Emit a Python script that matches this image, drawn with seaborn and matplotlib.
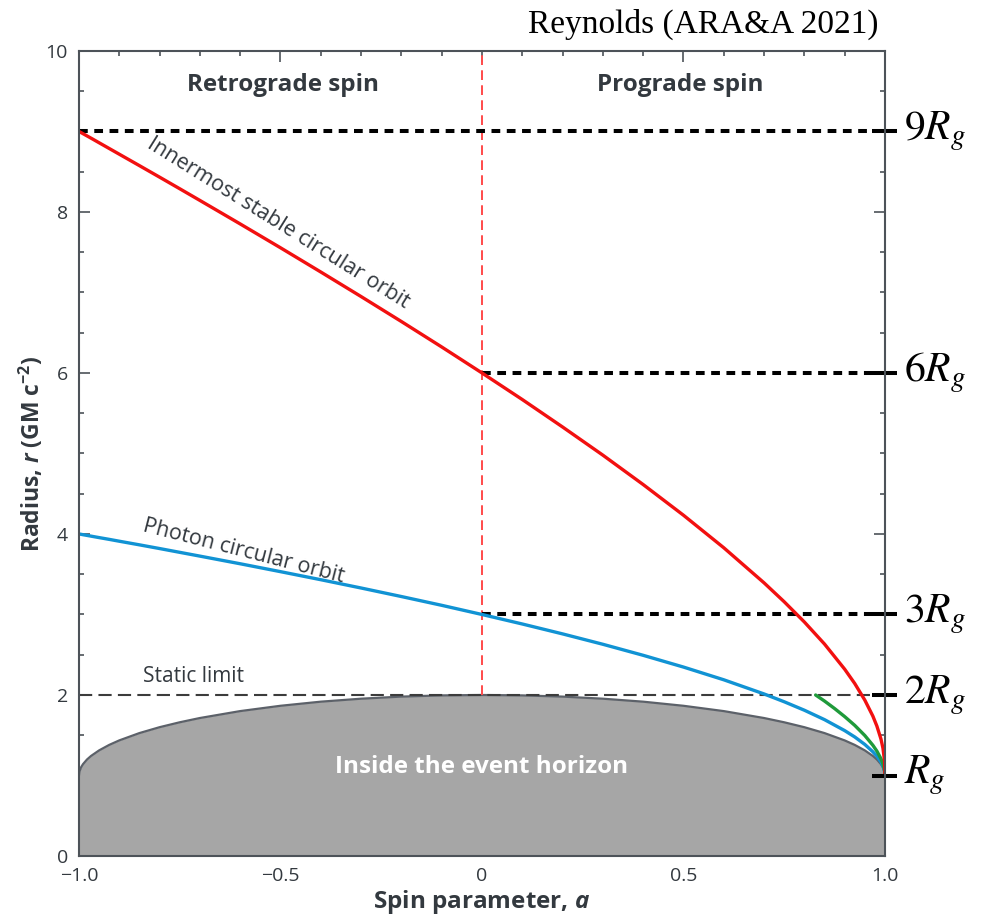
import matplotlib
matplotlib.use("Agg")
import matplotlib.pyplot as plt
import seaborn as sns
import numpy as np

# ---------------- data ----------------
spin = [-1.0, -0.999, -0.995, -0.99, -0.98, -0.97, -0.95, -0.925, -0.9, -0.85,
        -0.8, -0.75, -0.7, -0.6, -0.5, -0.4, -0.3, -0.2, -0.1, 0.0,
        0.1, 0.2, 0.3, 0.4, 0.5, 0.6, 0.7,
        0.75, 0.8, 0.85, 0.9, 0.925, 0.95, 0.97, 0.98, 0.99, 0.995, 0.999, 1.0]
r_isco = [9.0, 8.997, 8.986, 8.972, 8.944, 8.916, 8.859, 8.788, 8.717, 8.575,
          8.432, 8.288, 8.143, 7.851, 7.555, 7.254, 6.949, 6.639, 6.323, 6.0,
          5.670, 5.329, 4.979, 4.614, 4.233, 3.829, 3.393,
          3.158, 2.907, 2.633, 2.321, 2.143, 1.937, 1.738, 1.614, 1.455, 1.341, 1.182, 1.0]
r_photon = [4.0, 3.999, 3.996, 3.991, 3.982, 3.973, 3.955, 3.933, 3.910, 3.865,
            3.819, 3.772, 3.725, 3.630, 3.532, 3.432, 3.329, 3.223, 3.114, 3.0,
            2.882, 2.759, 2.630, 2.493, 2.347, 2.189, 2.013,
            1.916, 1.811, 1.694, 1.558, 1.479, 1.386, 1.295, 1.240, 1.168, 1.118, 1.052, 1.0]
r_horizon = [1.0, 1.045, 1.100, 1.141, 1.199, 1.243, 1.312, 1.380, 1.436, 1.527,
             1.600, 1.661, 1.714, 1.800, 1.866, 1.917, 1.954, 1.980, 1.995, 2.0,
             1.995, 1.980, 1.954, 1.917, 1.866, 1.800, 1.714,
             1.661, 1.600, 1.527, 1.436, 1.380, 1.312, 1.243, 1.199, 1.141, 1.100, 1.045, 1.0]
spin_green = [0.828, 0.85, 0.875, 0.9, 0.925, 0.95, 0.97, 0.98, 0.99, 0.995, 0.999, 1.0]
r_green = [2.0, 1.925, 1.832, 1.732, 1.623, 1.497, 1.376, 1.303, 1.210, 1.146, 1.064, 1.0]

static_limit = 2.0
ref_levels = [9, 6, 3, 2, 1]
ref_labels = [r"$9R_g$", r"$6R_g$", r"$3R_g$", r"$2R_g$", r"$R_g$"]
ref_start = [-1.0, 0.0, 0.0, None, None]   # where dashed line starts (None = tick only)

xticks = [-1.0, -0.5, 0.0, 0.5, 1.0]
xticklabels = ["\u22121.0", "\u22120.5", "0", "0.5", "1.0"]
yticks = [0, 2, 4, 6, 8, 10]

# ---------------- style ----------------
sns.set_style("ticks")
plt.rcParams["font.family"] = ["Open Sans", "DejaVu Sans"]
plt.rcParams["lines.scale_dashes"] = False
plt.rcParams["mathtext.fontset"] = "custom"
plt.rcParams["mathtext.rm"] = "Open Sans:bold"
plt.rcParams["mathtext.it"] = "Open Sans:italic:bold"
plt.rcParams["mathtext.bf"] = "Open Sans:bold"

SPINE = "#4d5359"
TXT = "#33393f"
RED = "#f21010"
BLUE = "#1193d4"
GREEN = "#1f9a3a"

fig = plt.figure(figsize=(9.87, 9.17), dpi=100)
ax = fig.add_axes([0.080, 0.0665, 0.8166, 0.878])

# event horizon fill
ax.fill_between(spin, 0, r_horizon, color="#a6a6a6", lw=0, zorder=1)
sns.lineplot(x=spin, y=r_horizon, color="#5c6169", lw=1.6, ax=ax, sort=False,
             estimator=None, zorder=2)

# static limit
ax.axhline(static_limit, color="#3c3c3c", lw=1.5, dashes=(9.5, 4.5), zorder=3)

# vertical red dashed at a=0
ax.plot([0, 0], [static_limit, 10], color="#ff4a4a", lw=1.4, dashes=(7, 3.8), zorder=3)

# reference level lines
for lvl, lab, st in zip(ref_levels, ref_labels, ref_start):
    if st is not None:
        ax.plot([st, 0.968], [lvl, lvl], color="black", lw=2.9, dashes=(6.3, 4.7),
                zorder=4, solid_capstyle="butt", dash_capstyle="butt")
    ax.plot([0.968, 1.030], [lvl, lvl], color="black", lw=2.9, zorder=6,
            clip_on=False, solid_capstyle="butt")
    ax.text(1.048, lvl - 0.10, lab, fontsize=30, va="baseline", ha="left",
            math_fontfamily="stix", color="black", clip_on=False)

# curves
sns.lineplot(x=spin, y=r_photon, color=BLUE, lw=2.4, ax=ax, sort=False, estimator=None, zorder=5)
sns.lineplot(x=spin_green, y=r_green, color=GREEN, lw=2.4, ax=ax, sort=False, estimator=None, zorder=5)
sns.lineplot(x=spin, y=r_isco, color=RED, lw=2.4, ax=ax, sort=False, estimator=None, zorder=5)

# annotations
ax.text(-0.494, 9.58, "Retrograde spin", fontsize=17.5, fontweight="bold", color=TXT,
        ha="center", va="center")
ax.text(0.491, 9.58, "Prograde spin", fontsize=17.5, fontweight="bold", color=TXT,
        ha="center", va="center")
ax.text(-0.505, 7.86, "Innermost stable circular orbit", fontsize=15.5, color=TXT,
        rotation=-32, rotation_mode="anchor", ha="center", va="center")
ax.text(-0.591, 3.78, "Photon circular orbit", fontsize=15.5, color=TXT,
        rotation=-14.4, rotation_mode="anchor", ha="center", va="center")
ax.text(-0.717, 2.10, "Static limit", fontsize=15, color=TXT, ha="center", va="bottom")
ax.text(0.0, 1.1, "Inside the event horizon", fontsize=17.5, fontweight="bold",
        color="white", ha="center", va="center", zorder=6)

# axes
ax.set_xlim(-1, 1)
ax.set_ylim(0, 10)
ax.set_xticks(xticks)
ax.set_xticklabels(xticklabels)
ax.set_yticks(yticks)
ax.set_xticks(np.arange(-1, 1.001, 0.1), minor=True)
ax.set_yticks(np.arange(0, 10.001, 0.5), minor=True)
ax.tick_params(which="both", direction="in", top=True, right=True, color=SPINE,
               labelcolor=TXT, labelsize=14, width=1.2)
ax.tick_params(which="major", length=8)
ax.tick_params(which="minor", length=3.5)
ax.tick_params(axis="y", which="major", pad=8)
ax.tick_params(axis="x", which="major", pad=8)
for s in ax.spines.values():
    s.set_color(SPINE)
    s.set_linewidth(1.5)
    s.set_zorder(7)

ax.set_xlabel(r"Spin parameter, $a$", fontsize=17.5, fontweight="bold", color=TXT, labelpad=2)
ax.set_ylabel(r"Radius, $r$ (GM c$^{\mathbf{-2}}$)", fontsize=16.5, fontweight="bold",
              color=TXT, labelpad=0)

fig.text(0.8896, 0.973, "Reynolds (ARA&A 2021)", fontsize=24, family="Liberation Serif",
         ha="right", va="center", color="black")

fig.savefig("out.png", dpi=100)
